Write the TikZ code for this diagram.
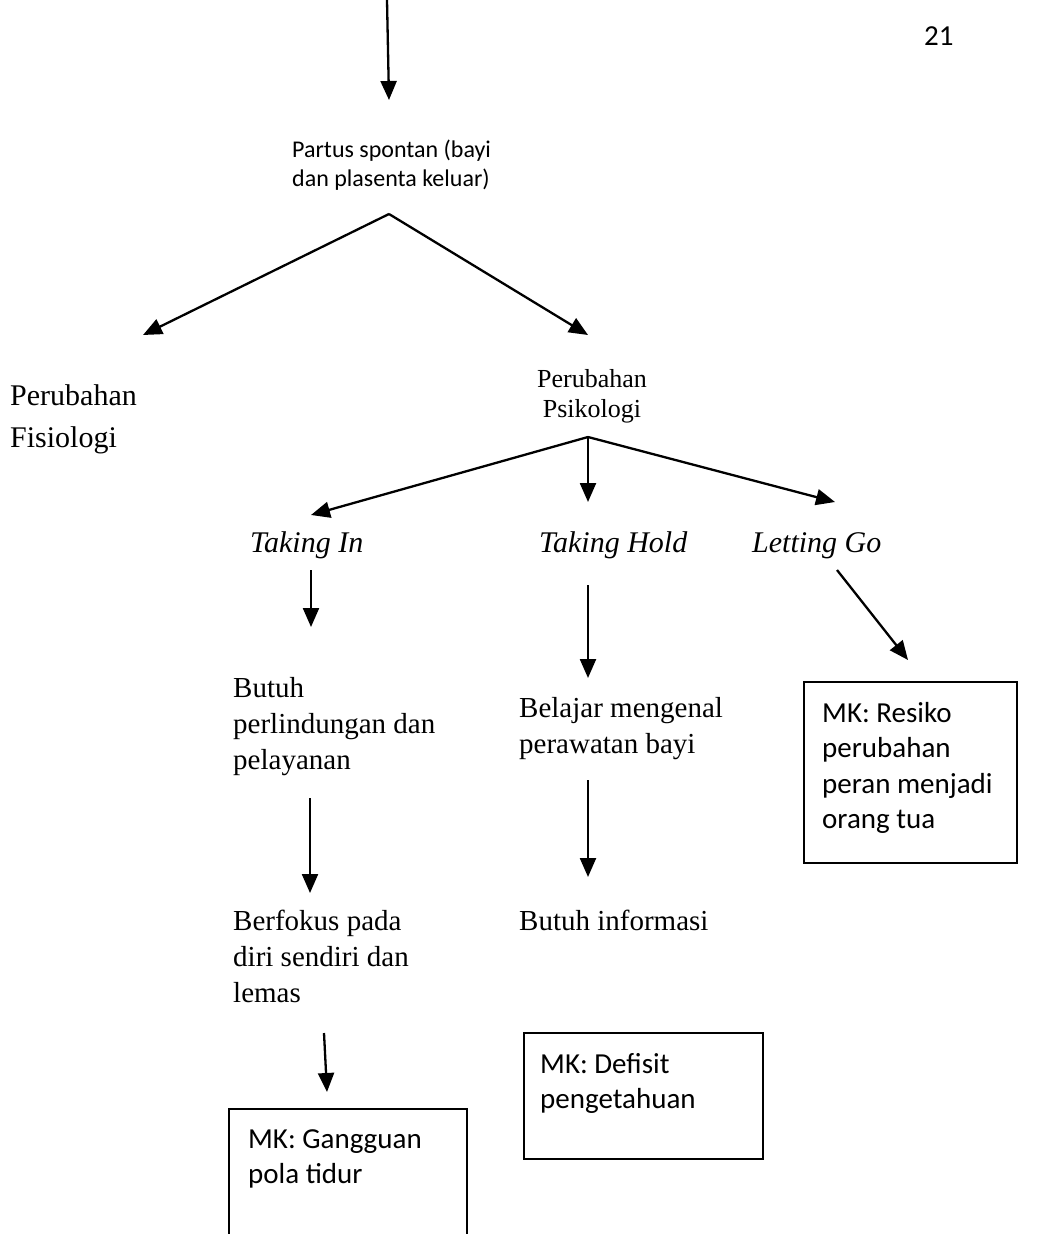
\documentclass[tikz,border=0pt]{standalone}
\usepackage{fontspec}
\setmainfont{Liberation Serif}
\newfontfamily\calfont{Carlito}
\usetikzlibrary{arrows.meta}
\newcommand{\mlines}[1]{\begin{tabular}[t]{@{}l@{}}#1\end{tabular}}
\begin{document}
\begin{tikzpicture}[x=1pt,y=-1pt,
  arr/.style={line width=2.3pt,-{Triangle[length=19pt,width=16pt]}},
  ser/.style={anchor=base west,inner sep=0pt,font=\fontsize{29}{36}\selectfont},
  seri/.style={anchor=base west,inner sep=0pt,font=\itshape\fontsize{30}{36}\selectfont},
  cal/.style={anchor=base west,inner sep=0pt,font=\calfont\fontsize{29}{35.5}\selectfont},
  calsmall/.style={anchor=base west,inner sep=0pt,font=\calfont\fontsize{24}{29}\selectfont},
  mkbox/.style={draw,line width=2pt,anchor=north west,inner sep=0pt}]
\useasboundingbox (0,0) rectangle (1045,1234);
\fill[white] (0,0) rectangle (1045,1234);

% page number
\node[anchor=base west,inner sep=0pt,font=\calfont\fontsize{29}{35}\selectfont] (pagenum) at (924,45) {21};

% texts
\node[calsmall] (partus) at (292,157) {\mlines{Partus spontan (bayi\\dan plasenta keluar)}};
\node[anchor=base west,inner sep=0pt,font=\fontsize{30}{42}\selectfont] (fisio) at (10,405) {\mlines{Perubahan\\Fisiologi}};
\node[anchor=base,inner sep=0pt,font=\fontsize{26}{30}\selectfont] (psiko) at (592,387) {\begin{tabular}[t]{@{}c@{}}Perubahan\\Psikologi\end{tabular}};
\node[seri] (takein) at (250,552) {Taking In};
\node[seri] (takehold) at (539,552) {Taking Hold};
\node[seri] (letgo) at (752,552) {Letting Go};
\node[ser] (butuh) at (233,697) {\mlines{Butuh\\perlindungan dan\\pelayanan}};
\node[ser] (belajar) at (519,717) {\mlines{Belajar mengenal\\perawatan bayi}};
\node[ser] (fokus) at (233,930) {\mlines{Berfokus pada\\diri sendiri dan\\lemas}};
\node[ser] (info) at (519,930) {Butuh informasi};

% boxes
\node[mkbox,minimum width=213pt,minimum height=181pt] (resikobox) at (803,681) {};
\node[cal] (resiko) at (822,722) {\mlines{MK: Resiko\\perubahan\\peran menjadi\\orang tua}};
\node[mkbox,minimum width=239pt,minimum height=126pt] (defisitbox) at (523,1032) {};
\node[cal] (defisit) at (540,1073) {\mlines{MK: Defisit\\pengetahuan}};
\draw[line width=2pt] (229,1245) |- (467,1109) -- (467,1245);
\node[cal] (gangguan) at (248,1148) {\mlines{MK: Gangguan\\pola tidur}};

% connector points
\coordinate (top0) at (387,0);
\coordinate (top1) at (389,100);
\coordinate (apexA) at (389,214);
\coordinate (fisioTip) at (143,335);
\coordinate (psikoTip) at (588,335);
\coordinate (apexB) at (588,437);
\coordinate (inTip) at (311,515);
\coordinate (holdTip) at (588,502);
\coordinate (goTip) at (835,502);
\coordinate (in0) at (311,570);
\coordinate (in1) at (311,627);
\coordinate (hold0) at (588,585);
\coordinate (hold1) at (588,678);
\coordinate (go0) at (837,570);
\coordinate (go1) at (908,660);
\coordinate (butuh0) at (310,798);
\coordinate (butuh1) at (310,893);
\coordinate (belajar0) at (588,780);
\coordinate (belajar1) at (588,877);
\coordinate (fokus0) at (324,1033);
\coordinate (fokus1) at (327,1092);

% connectors
\draw[arr] (top0) -- (top1);
\draw[arr] (apexA) -- (fisioTip);
\draw[arr] (apexA) -- (psikoTip);
\draw[arr] (apexB) -- (inTip);
\draw[arr] (apexB) -- (holdTip);
\draw[arr] (apexB) -- (goTip);
\draw[arr] (in0) -- (in1);
\draw[arr] (hold0) -- (hold1);
\draw[arr] (go0) -- (go1);
\draw[arr] (butuh0) -- (butuh1);
\draw[arr] (belajar0) -- (belajar1);
\draw[arr] (fokus0) -- (fokus1);
\end{tikzpicture}
\end{document}
